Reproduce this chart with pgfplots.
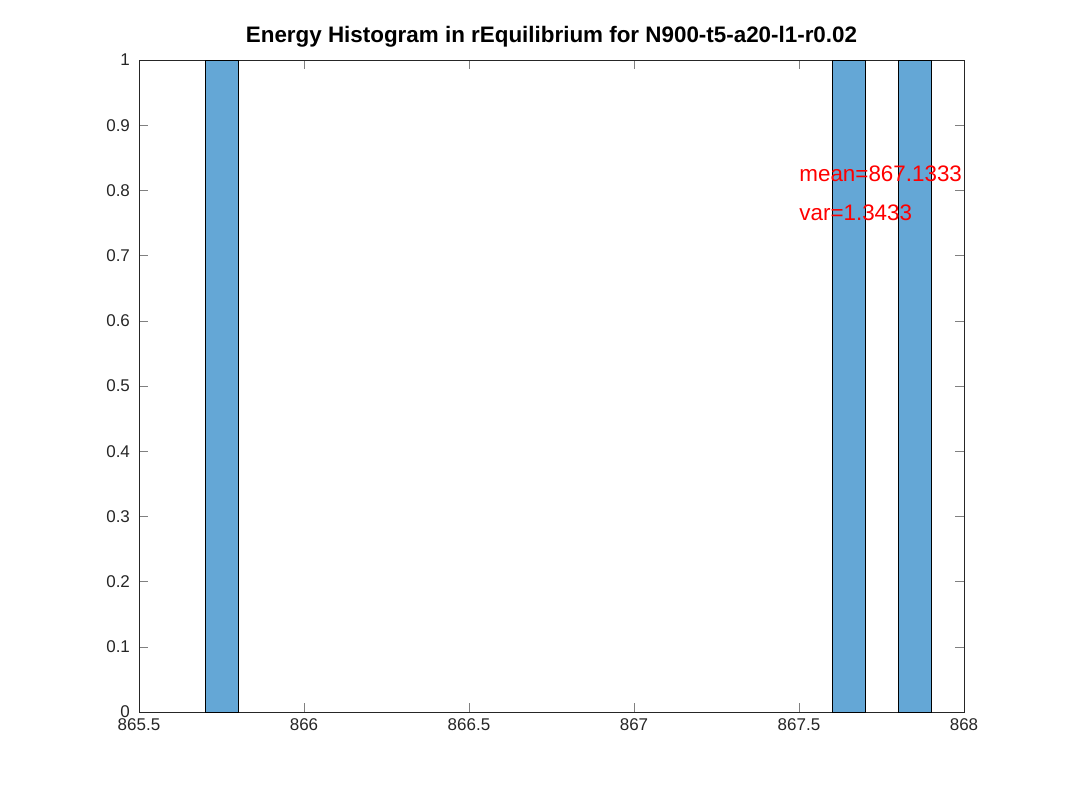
\documentclass[border=0pt]{standalone}
\usepackage{pgfplots}
\pgfplotsset{compat=1.18}
\usepackage{fontspec}
\setmainfont{Liberation Sans}
\definecolor{barc}{RGB}{100,167,214}
\begin{document}
\begin{tikzpicture}
\path (0,0) rectangle (533.5pt,400pt);
\begin{axis}[at={(69.5pt,44pt)},anchor=south west,scale only axis,
width=412.5pt,height=326pt,xmin=865.5,xmax=868,ymin=0,ymax=1,
xtick={865.5,866,866.5,867,867.5,868},ytick={0,0.1,...,1},
tick align=inside,tick pos=both,
/pgf/number format/assume math mode=true,
xticklabel style={/pgf/number format/fixed,/pgf/number format/precision=1},
yticklabel style={/pgf/number format/fixed,/pgf/number format/precision=1,xshift=-1pt},
ticklabel style={font=\fontsize{8.5}{10}\selectfont,text=black!85},
title={\bfseries Energy Histogram in rEquilibrium for N900-t5-a20-l1-r0.02},
title style={font=\fontsize{11.2}{13}\selectfont,yshift=-3pt},
axis line style={black!85}]
\addplot[ybar interval,fill=barc,draw=black,line width=0.4pt] coordinates {(865.7,1)(865.8,1)};
\addplot[ybar interval,fill=barc,draw=black,line width=0.4pt] coordinates {(867.6,1)(867.7,1)};
\addplot[ybar interval,fill=barc,draw=black,line width=0.4pt] coordinates {(867.8,1)(867.9,1)};
\node[anchor=west,red,font=\fontsize{11.2}{13}\selectfont,inner sep=0pt] at (axis cs:867.5,0.826) {mean=867.1333};
\node[anchor=west,red,font=\fontsize{11.2}{13}\selectfont,inner sep=0pt] at (axis cs:867.5,0.766) {var=1.3433};
\end{axis}
\end{tikzpicture}
\end{document}
